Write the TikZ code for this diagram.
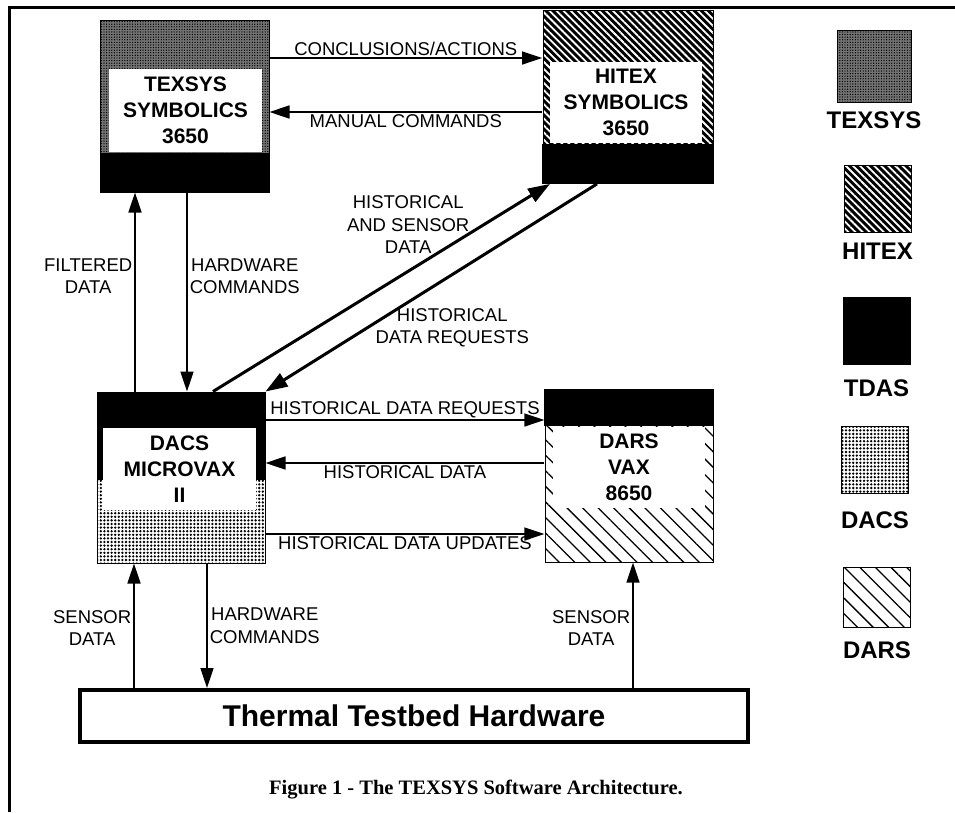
\documentclass[tikz,border=0pt]{standalone}
\usepackage{fontspec}
\setmainfont{Liberation Sans}
\newfontfamily\capfont{Liberation Serif}
\usetikzlibrary{positioning,arrows.meta,patterns.meta}

\begin{document}
\begin{tikzpicture}[
    x=1pt, y=-1pt,
    machine/.style={rectangle, draw=black, line width=1pt, inner sep=0pt},
    namebox/.style={rectangle, fill=white, inner sep=0pt, align=center, font=\fontsize{21}{26}\selectfont\bfseries},
    keybox/.style={rectangle, draw=black, line width=1pt, minimum width=67pt, minimum height=67pt, inner sep=0pt},
    keylabel/.style={font=\fontsize{24}{28}\selectfont\bfseries},
    lbl/.style={font=\fontsize{18.5}{22.5}\selectfont, inner sep=2pt, align=center},
    arrow/.style={-{Triangle[length=20pt,width=13pt]}, line width=1.6pt},
    bigarrow/.style={-{Triangle[length=22pt,width=15pt]}, line width=3pt},
    texsysfill/.style={preaction={fill=black!55}, pattern={Dots[distance=2.6pt,radius=0.7pt]}, pattern color=black},
    hitexfill/.style={preaction={fill=black}, pattern={Lines[angle=-45,distance=5pt,line width=1.8pt]}, pattern color=white},
    dacsfill/.style={preaction={fill=white}, pattern={Dots[distance=3.6pt,radius=1.3pt]}, pattern color=black},
    darsfill/.style={preaction={fill=white}, pattern={Lines[angle=-45,distance=11pt,line width=1.3pt]}, pattern color=black},
]
    \useasboundingbox (0,0) rectangle (955,812);
    \draw[line width=3pt] (9,812) -- (9,7) -- (955,7);

    % Machines
    \node[machine, texsysfill, minimum width=169pt, minimum height=172pt] (texsys) at (184.5,106) {};
    \fill (texsys.south west) rectangle ([yshift=40pt]texsys.south east);
    \node[namebox, minimum width=153pt, minimum height=83pt] (texsysname) at (185.5,110.5) {TEXSYS\\SYMBOLICS\\3650};

    \node[machine, hitexfill, minimum width=170pt, minimum height=173pt] (hitex) at (628,96.5) {};
    \fill (hitex.south west) rectangle ([yshift=40pt]hitex.south east);
    \node[namebox, minimum width=152pt, minimum height=81pt] (hitexname) at (626,102.5) {HITEX\\SYMBOLICS\\3650};

    \node[machine, dacsfill, minimum width=168pt, minimum height=171pt] (dacs) at (181,477.5) {};
    \fill (dacs.north west) rectangle ([yshift=-88pt]dacs.north east);
    \node[namebox, minimum width=153pt, minimum height=82pt] (dacsname) at (179.5,469) {DACS\\MICROVAX\\II};

    \node[machine, darsfill, minimum width=168pt, minimum height=172pt] (dars) at (629,476) {};
    \fill (dars.north west) rectangle ([yshift=-37pt]dars.north east);
    \node[namebox, minimum width=152pt, minimum height=81pt] (darsname) at (629,467.5) {DARS\\VAX\\8650};

    \node[rectangle, draw=black, line width=4pt, minimum width=668pt, minimum height=52pt,
          font=\fontsize{30}{34}\selectfont\bfseries] (hw) at (414,716) {Thermal Testbed Hardware};

    % Legend
    \node[keybox, texsysfill, minimum width=74pt, minimum height=72pt] (keytexsys) at (874,66) {};
    \node[keylabel, below=6pt of keytexsys] (keytexsyslbl) {TEXSYS};
    \node[keybox, hitexfill] (keyhitex) at (877.5,199) {};
    \node[keylabel, below=6pt of keyhitex] (keyhitexlbl) {HITEX};
    \node[keybox, fill=black] (keytdas) at (876.5,330.5) {};
    \node[keylabel, below=12pt of keytdas] (keytdaslbl) {TDAS};
    \node[keybox, dacsfill] (keydacs) at (875,460) {};
    \node[keylabel, below=14pt of keydacs] (keydacslbl) {DACS};
    \node[keybox, darsfill, minimum height=60pt] (keydars) at (877,597) {};
    \node[keylabel, below=11pt of keydars] (keydarslbl) {DARS};

    % Arrows
    \draw[arrow] ([yshift=48pt]texsys.east) -- ([yshift=48pt]texsys.east -| hitex.west)
        node[lbl, midway, above] {CONCLUSIONS/ACTIONS};
    \draw[arrow] ([yshift=-6pt]texsys.east -| hitex.west) -- ([yshift=-6pt]texsys.east)
        node[lbl, midway, below] {MANUAL COMMANDS};
    \draw[arrow] ([xshift=-46pt]dacs.north) -- ([xshift=-46pt]dacs.north |- texsys.south)
        node[lbl, pos=0.58, left] {FILTERED\\DATA};
    \draw[arrow] ([xshift=6pt]dacs.north |- texsys.south) -- ([xshift=6pt]dacs.north)
        node[lbl, pos=0.42, right] {HARDWARE\\COMMANDS};
    \draw[bigarrow] ([xshift=32pt]dacs.north) -- ([xshift=-78pt]hitex.south)
        node[lbl, pos=0.6, xshift=-7pt, yshift=42pt] {HISTORICAL\\AND SENSOR\\DATA};
    \draw[bigarrow] ([xshift=-31pt]hitex.south) -- (dacs.north east)
        node[lbl, pos=0.5, xshift=21pt, yshift=-40pt] {HISTORICAL\\DATA REQUESTS};
    \draw[arrow] ([yshift=57.5pt]dacs.east) -- ([yshift=57.5pt]dacs.east -| dars.west)
        node[lbl, midway, above=-1pt] {HISTORICAL DATA REQUESTS};
    \draw[arrow] ([yshift=14.5pt]dacs.east -| dars.west) -- ([yshift=14.5pt]dacs.east)
        node[lbl, midway, below] {HISTORICAL DATA};
    \draw[arrow] ([yshift=-56.5pt]dacs.east) -- ([yshift=-56.5pt]dacs.east -| dars.west)
        node[lbl, midway, below] {HISTORICAL DATA UPDATES};
    \draw[arrow] ([xshift=-280pt]hw.north) -- ([xshift=-280pt]hw.north |- dacs.south)
        node[lbl, pos=0.48, left] {SENSOR\\DATA};
    \draw[arrow] ([xshift=26pt]dacs.south) -- ([xshift=26pt]dacs.south |- hw.north)
        node[lbl, pos=0.5, right] {HARDWARE\\COMMANDS};
    \draw[arrow] ([xshift=219pt]hw.north) -- ([xshift=219pt]hw.north |- dars.south)
        node[lbl, pos=0.48, left] {SENSOR\\DATA};

    % Caption
    \node[font=\capfont\bfseries\fontsize{20.5}{24}\selectfont] (caption) at (476,790)
        {Figure 1 - The TEXSYS Software Architecture.};
\end{tikzpicture}
\end{document}
